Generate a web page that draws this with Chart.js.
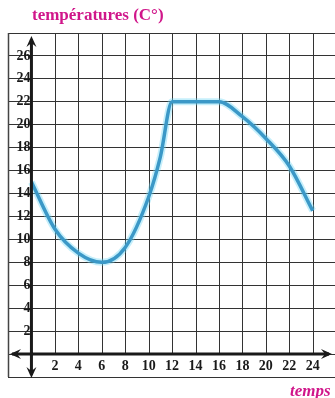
<!DOCTYPE html>
<html>
<head>
<meta charset="utf-8">
<script src="https://cdn.jsdelivr.net/npm/chart.js@4.4.0/dist/chart.umd.min.js"></script>
<style>
  html, body { margin: 0; padding: 0; background: #fff; }
  #wrap { width: 335px; height: 398px; position: relative; }
</style>
</head>
<body>
<div id="wrap"><canvas id="temp_chart" width="335" height="398"></canvas></div>
<script>
// heures et températures
const hours = [0, 2, 4, 6, 8, 10, 11, 12, 14, 16, 18, 20, 22, 24];
const temps = [15, 10.9, 8.8, 8, 9.3, 13.7, 17.2, 22, 22, 22, 20.7, 18.8, 16.4, 12.5];

const xLabels = [2, 4, 6, 8, 10, 12, 14, 16, 18, 20, 22, 24];
const yLabels = [2, 4, 6, 8, 10, 12, 14, 16, 18, 20, 22, 24, 26];

const titleText = "températures (C°)";
const xTitleText = "temps";

const pink = "#d0168a";
const ink = "#1a1a1a";

const points = hours.map((h, i) => ({ x: h, y: temps[i] }));

const frame = {
  id: "frame",
  beforeDatasetsDraw(chart) {
    const { ctx, chartArea, scales } = chart;
    const x = scales.x, y = scales.y;
    const y0 = y.getPixelForValue(0);
    ctx.save();
    // vertical grid lines stop at the time axis
    ctx.strokeStyle = "#333";
    ctx.lineWidth = 1;
    for (let h = 2; h <= 24; h += 2) {
      const px = Math.round(x.getPixelForValue(h)) + 0.5;
      ctx.beginPath();
      ctx.moveTo(px, chartArea.top);
      ctx.lineTo(px, y0);
      ctx.stroke();
    }
    // outer frame
    ctx.lineWidth = 1.5;
    ctx.strokeStyle = "#444";
    const lx = Math.round(x.getPixelForValue(-2)) + 0.5;
    ctx.beginPath();
    ctx.moveTo(lx, chartArea.top);
    ctx.lineTo(lx, chartArea.bottom);
    ctx.stroke();
    ctx.restore();
  },
  afterDatasetsDraw(chart) {
    const { ctx, chartArea, scales } = chart;
    const x = scales.x, y = scales.y;
    const x0 = x.getPixelForValue(0);
    const y0 = y.getPixelForValue(0);
    ctx.save();
    ctx.strokeStyle = ink;
    ctx.fillStyle = ink;
    ctx.lineWidth = 3;
    // axes
    ctx.beginPath();
    ctx.moveTo(x0, chartArea.top + 6);
    ctx.lineTo(x0, chartArea.bottom - 2);
    ctx.moveTo(chartArea.left + 4, y0);
    ctx.lineTo(chartArea.right - 6, y0);
    ctx.stroke();
    const arrow = (px, py, dx, dy) => {
      const nx = -dy, ny = dx;
      ctx.beginPath();
      ctx.moveTo(px, py);
      ctx.lineTo(px - dx * 11 + nx * 5, py - dy * 11 + ny * 5);
      ctx.lineTo(px - dx * 7, py - dy * 7);
      ctx.lineTo(px - dx * 11 - nx * 5, py - dy * 11 - ny * 5);
      ctx.closePath();
      ctx.fill();
    };
    arrow(x0, chartArea.top + 3, 0, -1);
    arrow(x0, chartArea.bottom + 1, 0, 1);
    arrow(chartArea.left + 2, y0, -1, 0);
    arrow(chartArea.right - 3, y0, 1, 0);

    // tick labels
    ctx.font = "bold 14px 'Liberation Serif', serif";
    ctx.textBaseline = "middle";
    ctx.textAlign = "right";
    yLabels.forEach(v => ctx.fillText(String(v), x0 - 1, y.getPixelForValue(v)));
    ctx.textAlign = "center";
    const ly = (y0 + y.getPixelForValue(-2)) / 2 + 1;
    xLabels.forEach(v => ctx.fillText(String(v), x.getPixelForValue(v), ly));

    // titles
    ctx.fillStyle = pink;
    ctx.font = "bold 17px 'Liberation Serif', serif";
    ctx.textAlign = "left";
    ctx.fillText(titleText, 32, 16);
    ctx.font = "italic bold 17px 'Liberation Serif', serif";
    ctx.fillText(xTitleText, 290, 392);
    ctx.restore();
  }
};

new Chart(document.getElementById("temp_chart").getContext("2d"), {
  type: "line",
  data: {
    datasets: [
      {
        label: "halo",
        data: points,
        borderColor: "rgba(110, 215, 245, 0.4)",
        borderWidth: 7,
        pointRadius: 0,
        cubicInterpolationMode: "monotone",
      },
      {
        label: "température",
        data: points,
        borderColor: "#1a6fa8",
        borderWidth: 3.5,
        pointRadius: 0,
        cubicInterpolationMode: "monotone",
      },
    ],
  },
  options: {
    responsive: false,
    animation: false,
    layout: { padding: { left: 8, top: 33, right: 0, bottom: 21 } },
    plugins: { legend: { display: false }, tooltip: { enabled: false }, title: { display: false } },
    scales: {
      x: { type: "linear", display: false, min: -2, max: 25.9 },
      y: {
        type: "linear",
        min: -2,
        max: 28,
        ticks: { stepSize: 2, display: false },
        grid: { color: "#333", lineWidth: 1, drawTicks: false },
        border: { display: false },
      },
    },
  },
  plugins: [frame],
});
</script>
</body>
</html>
